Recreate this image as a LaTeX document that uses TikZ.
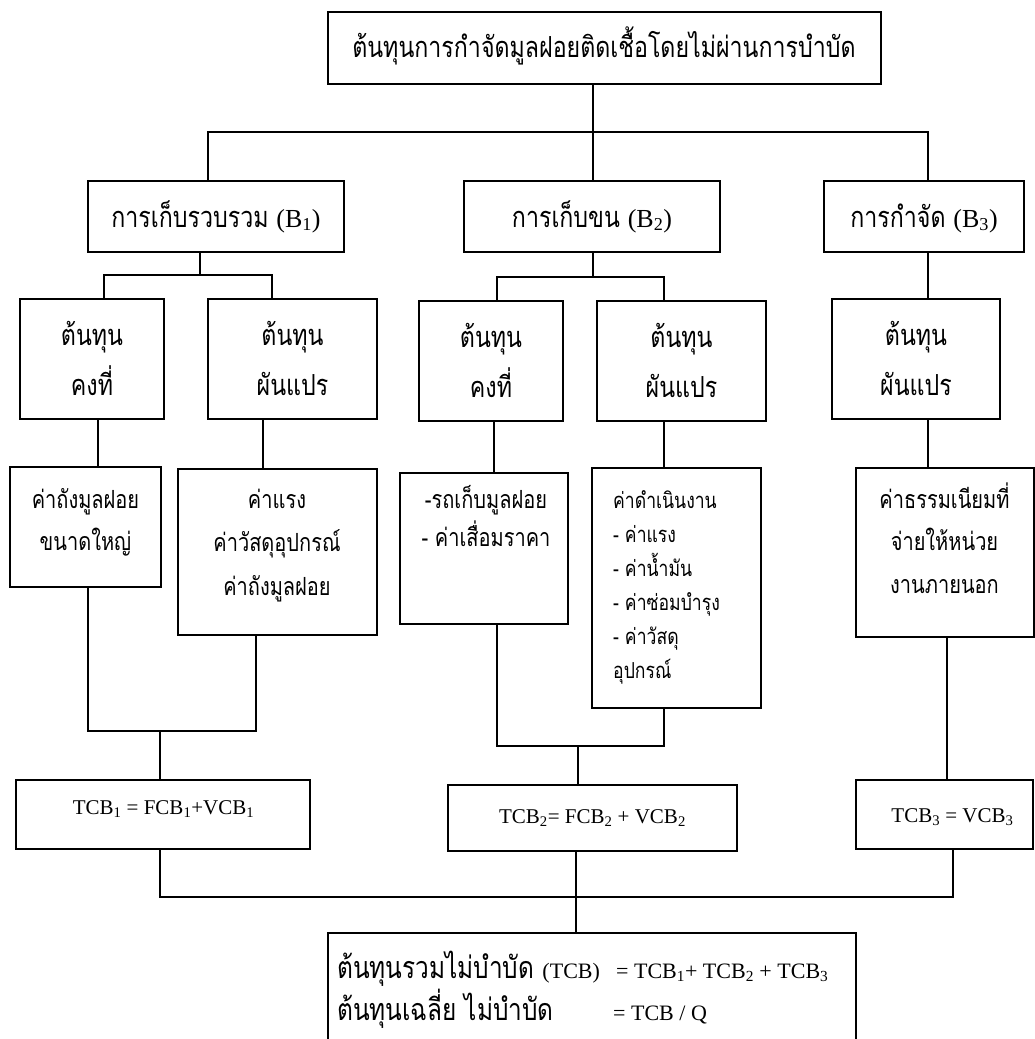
\documentclass[tikz,border=0pt]{standalone}
\usepackage{fontspec}
\setmainfont{Liberation Serif}
\newfontfamily\thfont[Script=Thai, FakeStretch=0.8]{Loma}
\newcommand\ctrlines[2]{\vtop{\baselineskip=#1\lineskiplimit=-1000pt\lineskip=0pt\halign{\hfil##\hfil\cr#2\crcr}}}
\newcommand\leftlines[2]{\vtop{\baselineskip=#1\lineskiplimit=-1000pt\lineskip=0pt\halign{##\hfil\cr#2\crcr}}}
\newcommand\lat[1]{{\rmfamily\fontsize{26}{30}\selectfont #1}}
\newcommand\latm[1]{{\rmfamily\fontsize{22}{26}\selectfont #1}}
\begin{document}
\begin{tikzpicture}[x=1pt,y=-1pt,
  box/.style={draw, line width=1.7pt, inner sep=0pt},
  conn/.style={line width=1.7pt},
  txt/.style={inner sep=0pt, font=\thfont\fontsize{29}{34}\selectfont},
  txtd/.style={inner sep=0pt, font=\thfont\fontsize{25}{30}\selectfont},
  txtdd/.style={inner sep=0pt, font=\thfont\fontsize{22}{26}\selectfont},
  txtb/.style={inner sep=0pt, font=\thfont\fontsize{30.5}{35}\selectfont},
  lat/.style={inner sep=0pt, font=\rmfamily\fontsize{21}{26}\selectfont},
  latb/.style={inner sep=0pt, font=\rmfamily\fontsize{22}{27}\selectfont}]
\useasboundingbox (0,0) rectangle (1035,1039);
\clip (0,0) rectangle (1035,1039);
% boxes
\node[box, minimum width=553pt, minimum height=72pt] (top) at (604.5,48) {};
\node[box, minimum width=256pt, minimum height=71pt] (B1) at (216,216.5) {};
\node[box, minimum width=256pt, minimum height=71pt] (B2) at (592,216.5) {};
\node[box, minimum width=200pt, minimum height=71pt] (B3) at (924,216.5) {};
\node[box, minimum width=144pt, minimum height=120pt] (F1) at (92,359) {};
\node[box, minimum width=169pt, minimum height=120pt] (V1) at (292.5,359) {};
\node[box, minimum width=144pt, minimum height=120pt] (F2) at (491,361) {};
\node[box, minimum width=169pt, minimum height=120pt] (V2) at (681.5,361) {};
\node[box, minimum width=168pt, minimum height=120pt] (V3) at (916,359) {};
\node[box, minimum width=151pt, minimum height=120pt] (D1) at (85.5,527) {};
\node[box, minimum width=199pt, minimum height=166pt] (D2) at (277.5,552) {};
\node[box, minimum width=168pt, minimum height=151pt] (D3) at (484,548.5) {};
\node[box, minimum width=169pt, minimum height=240pt] (D4) at (676.5,588) {};
\node[box, minimum width=178pt, minimum height=169pt] (D5) at (945,552.5) {};
\node[box, minimum width=294pt, minimum height=69pt] (T1) at (163,814.5) {};
\node[box, minimum width=289pt, minimum height=66pt] (T2) at (592.5,818) {};
\node[box, minimum width=177pt, minimum height=69pt] (T3) at (944.5,814.5) {};
\node[box, minimum width=528pt, minimum height=127pt] (sum) at (592,996.5) {};
% texts
\node[txt, anchor=base] (topt) at (604,57) {ต้นทุนการกำจัดมูลฝอยติดเชื้อโดยไม่ผ่านการบำบัด};
\node[txt, anchor=base] (B1t) at (216,227) {การเก็บรวบรวม \lat{(B\textsubscript{1})}};
\node[txt, anchor=base] (B2t) at (592,227) {การเก็บขน \lat{(B\textsubscript{2})}};
\node[txt, anchor=base] (B3t) at (924,227) {การกำจัด \lat{(B\textsubscript{3})}};
\node[txt, anchor=base] (F1t) at (92,345) {\ctrlines{50pt}{ต้นทุน\cr คงที่}};
\node[txt, anchor=base] (V1t) at (292.5,345) {\ctrlines{50pt}{ต้นทุน\cr ผันแปร}};
\node[txt, anchor=base] (F2t) at (491,347) {\ctrlines{50pt}{ต้นทุน\cr คงที่}};
\node[txt, anchor=base] (V2t) at (681.5,347) {\ctrlines{50pt}{ต้นทุน\cr ผันแปร}};
\node[txt, anchor=base] (V3t) at (916,345) {\ctrlines{50pt}{ต้นทุน\cr ผันแปร}};
\node[txtd, anchor=base] (D1t) at (85.5,508) {\ctrlines{42pt}{ค่าถังมูลฝอย\cr ขนาดใหญ่}};
\node[txtd, anchor=base] (D2t) at (277,508) {\ctrlines{43.5pt}{ค่าแรง\cr ค่าวัสดุอุปกรณ์\cr ค่าถังมูลฝอย}};
\node[txtd, anchor=base] (D3t) at (486,508) {\ctrlines{38pt}{-รถเก็บมูลฝอย\cr - ค่าเสื่อมราคา}};
\node[txtdd, anchor=base west] (D4t) at (613,508) {\leftlines{34pt}{ค่าดำเนินงาน\cr - ค่าแรง\cr - ค่าน้ำมัน\cr - ค่าซ่อมบำรุง\cr - ค่าวัสดุ\cr อุปกรณ์}};
\node[txtd, anchor=base] (D5t) at (944.5,508) {\ctrlines{42.5pt}{ค่าธรรมเนียมที่\cr จ่ายให้หน่วย\cr งานภายนอก}};
\node[lat, anchor=base] (T1t) at (163.5,814) {TCB\textsubscript{1} = FCB\textsubscript{1}+VCB\textsubscript{1}};
\node[lat, anchor=base] (T2t) at (592.5,823) {TCB\textsubscript{2}= FCB\textsubscript{2} + VCB\textsubscript{2}};
\node[lat, anchor=base] (T3t) at (952.5,822) {TCB\textsubscript{3} = VCB\textsubscript{3}};
\node[txtb, anchor=base west] (s1) at (337,978) {ต้นทุนรวมไม่บำบัด \latm{(TCB)}};
\node[latb, anchor=base west] (s1r) at (616,978) {= TCB\textsubscript{1}+ TCB\textsubscript{2} + TCB\textsubscript{3}};
\node[txtb, anchor=base west] (s2) at (337,1020) {ต้นทุนเฉลี่ย ไม่บำบัด};
\node[latb, anchor=base west] (s2r) at (613,1020) {= TCB / Q};
% connectors
\coordinate (j0) at (593,132);
\draw[conn] (top.south -| j0) -- (j0);
\draw[conn] ([xshift=-8pt]B1.north) |- (j0) -| ([xshift=4pt]B3.north);
\draw[conn] (j0) -- (B2.north -| j0);
\coordinate (j1) at (200,275);
\draw[conn] (B1.south -| j1) -- (j1);
\draw[conn] ([xshift=12pt]F1.north) |- (j1) -| ([xshift=-20.5pt]V1.north);
\coordinate (j2) at (593,277);
\draw[conn] (B2.south -| j2) -- (j2);
\draw[conn] ([xshift=6pt]F2.north) |- (j2) -| ([xshift=-17.5pt]V2.north);
\draw[conn] ([xshift=4pt]B3.south) -- ([xshift=4pt]B3.south |- V3.north);
\draw[conn] ([xshift=6pt]F1.south) -- ([xshift=6pt]F1.south |- D1.north);
\draw[conn] ([xshift=-29.5pt]V1.south) -- ([xshift=-29.5pt]V1.south |- D2.north);
\draw[conn] ([xshift=3pt]F2.south) -- ([xshift=3pt]F2.south |- D3.north);
\draw[conn] ([xshift=-17.5pt]V2.south) -- ([xshift=-17.5pt]V2.south |- D4.north);
\draw[conn] ([xshift=12pt]V3.south) -- ([xshift=12pt]V3.south |- D5.north);
\coordinate (j3) at (160,731);
\draw[conn] ([xshift=2.5pt]D1.south) |- (j3) -| ([xshift=-21.5pt]D2.south);
\draw[conn] (j3) -- (T1.north -| j3);
\coordinate (j4) at (578,746);
\draw[conn] ([xshift=13pt]D3.south) |- (j4) -| ([xshift=-12.5pt]D4.south);
\draw[conn] (j4) -- (T2.north -| j4);
\draw[conn] ([xshift=2pt]D5.south) -- ([xshift=2pt]D5.south |- T3.north);
\coordinate (j5) at (576,897);
\draw[conn] ([xshift=-3pt]T1.south) |- (j5) -| ([xshift=8.5pt]T3.south);
\draw[conn] (T2.south -| j5) -- (sum.north -| j5);
\end{tikzpicture}
\end{document}
